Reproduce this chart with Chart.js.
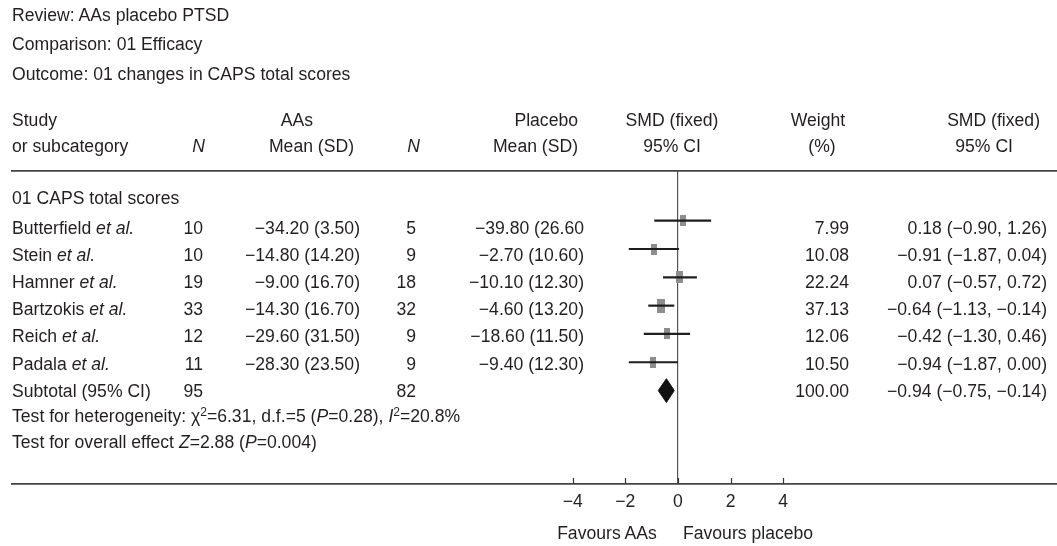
<!DOCTYPE html>
<html>
<head>
<meta charset="utf-8">
<script src="https://cdn.jsdelivr.net/npm/chart.js@4/dist/chart.umd.min.js"></script>
<style>
  html, body { margin: 0; padding: 0; background: #fff; }
  #wrap { position: relative; width: 1057px; height: 546px; overflow: hidden; }
  #plot { position: absolute; left: 0; top: 0; }
  .t { position: absolute; white-space: nowrap; font-family: "Liberation Sans", Arial, sans-serif;
       font-size: 17.6px; line-height: 20px; color: #231f20; }
  .t sup { font-size: 12px; line-height: 0; vertical-align: 6px; }
</style>
</head>
<body>
<div id="wrap">
  <canvas id="plot" width="1057" height="546"></canvas>
</div>
<script>
// data
const studies = ['Butterfield', 'Stein', 'Hamner', 'Bartzokis', 'Reich', 'Padala'];
const nAAs = [10, 10, 19, 33, 12, 11];
const meanAAs = [-34.20, -14.80, -9.00, -14.30, -29.60, -28.30];
const sdAAs = [3.50, 14.20, 16.70, 16.70, 31.50, 23.50];
const nPlacebo = [5, 9, 18, 32, 9, 9];
const meanPlacebo = [-39.80, -2.70, -10.10, -4.60, -18.60, -9.40];
const sdPlacebo = [26.60, 10.60, 12.30, 13.20, 11.50, 12.30];
const weights = [7.99, 10.08, 22.24, 37.13, 12.06, 10.50];
const smd = [0.18, -0.91, 0.07, -0.64, -0.42, -0.94];
const ciLow = [-0.90, -1.87, -0.57, -1.13, -1.30, -1.87];
const ciHigh = [1.26, 0.04, 0.72, -0.14, 0.46, 0.00];

const totalN = [95, 82];
const totalWeight = 100.00;
const pooledLabel = [-0.94, -0.75, -0.14];   // as printed
const pooledDiamond = [-0.75, -0.44, -0.14]; // as drawn: low, mid, high
const heterogeneity = { chi2: 6.31, df: 5, p: 0.28, i2: 20.8 };
const overall = { z: 2.88, p: 0.004 };

const tickValues = [-4, -2, 0, 2, 4];

const ink = '#231f20';
const fmt = (v, d = 2) => v.toFixed(d).replace('-', '\u2212');

// ---- text table ----
const wrap = document.getElementById('wrap');
function put(html, x, y, align) {
  const d = document.createElement('div');
  d.className = 't';
  d.innerHTML = html;
  d.style.top = (y - 10) + 'px';
  d.style.left = x + 'px';
  if (align === 'right') d.style.transform = 'translateX(-100%)';
  if (align === 'center') d.style.transform = 'translateX(-50%)';
  wrap.appendChild(d);
}

put('Review: AAs placebo PTSD', 12, 15);
put('Comparison: 01 Efficacy', 12, 44);
put('Outcome: 01 changes in CAPS total scores', 12, 74);

put('Study', 12, 120);
put('or subcategory', 12, 146);
put('<i>N</i>', 205, 146, 'right');
put('AAs', 297, 120, 'center');
put('Mean (SD)', 354, 146, 'right');
put('<i>N</i>', 420, 146, 'right');
put('Placebo', 578, 120, 'right');
put('Mean (SD)', 578, 146, 'right');
put('SMD (fixed)', 672, 120, 'center');
put('95% CI', 672, 146, 'center');
put('Weight', 818, 120, 'center');
put('(%)', 822, 146, 'center');
put('SMD (fixed)', 1040, 120, 'right');
put('95% CI', 1013, 146, 'right');

put('01 CAPS total scores', 12, 198);
const rowY = i => 228 + 27.1 * i;
studies.forEach((s, i) => {
  const y = rowY(i);
  put(s + ' <i>et al.</i>', 12, y);
  put(String(nAAs[i]), 203, y, 'right');
  put(fmt(meanAAs[i]) + ' (' + fmt(sdAAs[i]) + ')', 360, y, 'right');
  put(String(nPlacebo[i]), 416, y, 'right');
  // the figure prints Butterfield's placebo SD without a closing bracket
  put(fmt(meanPlacebo[i]) + ' (' + fmt(sdPlacebo[i]) + (i === 0 ? '' : ')'), 584, y, 'right');
  put(fmt(weights[i]), 849, y, 'right');
  put(fmt(smd[i]) + ' (' + fmt(ciLow[i]) + ', ' + fmt(ciHigh[i]) + ')', 1047, y, 'right');
});
const subY = rowY(6);
put('Subtotal (95% CI)', 12, subY);
put(String(totalN[0]), 203, subY, 'right');
put(String(totalN[1]), 416, subY, 'right');
put(fmt(totalWeight), 849, subY, 'right');
put(fmt(pooledLabel[0]) + ' (' + fmt(pooledLabel[1]) + ', ' + fmt(pooledLabel[2]) + ')', 1047, subY, 'right');
put('Test for heterogeneity: \u03c7<sup>2</sup>=' + heterogeneity.chi2.toFixed(2) + ', d.f.=' + heterogeneity.df +
    ' (<i>P</i>=' + heterogeneity.p.toFixed(2) + '), <i>I</i><sup>2</sup>=' + heterogeneity.i2.toFixed(1) + '%', 12, 416);
put('Test for overall effect <i>Z</i>=' + overall.z.toFixed(2) + ' (<i>P</i>=' + overall.p.toFixed(3) + ')', 12, 442);

put('Favours AAs', 607, 533, 'center');
put('Favours placebo', 683, 533);

// ---- forest plot ----
function box(w) {
  const c = document.createElement('canvas');
  c.width = Math.round(5 + 0.09 * w);
  c.height = Math.round(10 + 0.1 * w);
  const g = c.getContext('2d');
  g.fillStyle = '#8e8e8e';
  g.fillRect(0, 0, c.width, c.height);
  return c;
}

let datasets = [];
studies.forEach((s, i) => {
  datasets.push({
    label: s + ' CI',
    data: [{ x: ciLow[i], y: i + 1 }, { x: ciHigh[i], y: i + 1 }],
    borderColor: '#1e1e1e',
    borderWidth: 2.2,
    pointRadius: 0,
    fill: false,
  });
});
datasets.push({
  label: 'weights',
  data: smd.map((v, i) => ({ x: v, y: i + 1 })),
  showLine: false,
  pointStyle: weights.map(box),
  pointRadius: 5,
});
const dy = 0.42;
datasets.push({
  label: 'diamond top',
  data: [{ x: pooledDiamond[0], y: 7 }, { x: pooledDiamond[1], y: 7 - dy }, { x: pooledDiamond[2], y: 7 }],
  borderColor: '#111',
  borderWidth: 1,
  backgroundColor: '#111',
  pointRadius: 0,
  tension: 0,
  fill: '+1',
});
datasets.push({
  label: 'diamond bottom',
  data: [{ x: pooledDiamond[0], y: 7 }, { x: pooledDiamond[1], y: 7 + dy }, { x: pooledDiamond[2], y: 7 }],
  borderColor: '#111',
  borderWidth: 1,
  pointRadius: 0,
  tension: 0,
  fill: false,
});

// small tick marks standing up from the axis line
const innerTicks = {
  id: 'innerTicks',
  afterDraw(chart) {
    const sx = chart.scales.x;
    const g = chart.ctx;
    const b = chart.chartArea.bottom;
    g.save();
    g.strokeStyle = '#333';
    g.lineWidth = 1.2;
    tickValues.forEach(v => {
      const px = Math.round(sx.getPixelForValue(v)) + 0.5;
      g.beginPath();
      g.moveTo(px, b - 6);
      g.lineTo(px, b);
      g.stroke();
    });
    g.restore();
  }
};

const config = {
  type: 'line',
  data: { datasets: datasets },
  options: {
    responsive: false,
    animation: false,
    events: [],
    layout: { autoPadding: false, padding: { left: 12, top: 171, right: 0, bottom: 0 } },
    plugins: { legend: { display: false }, tooltip: { enabled: false } },
    scales: {
      x: {
        type: 'linear',
        position: 'bottom',
        min: -25.32,
        max: 14.41,
        afterBuildTicks: (s) => { s.ticks = tickValues.map(v => ({ value: v })); },
        afterFit: (s) => { s.height = 62; },
        grid: {
          drawTicks: false,
          lineWidth: 1.2,
          color: (c) => (c.tick && c.tick.value === 0 ? '#555' : 'rgba(0,0,0,0)'),
        },
        border: { display: true, color: '#444', width: 1.8 },
        ticks: {
          padding: 8,
          color: ink,
          font: { family: '"Liberation Sans", Arial, sans-serif', size: 17.6 },
          callback: (v) => String(v).replace('-', '\u2212'),
        },
      },
      xTop: {
        type: 'linear',
        position: 'top',
        min: -25.32,
        max: 14.41,
        afterFit: (s) => { s.height = 0; },
        grid: { display: false },
        ticks: { display: false },
        border: { display: true, color: '#444', width: 1.8 },
      },
      y: {
        type: 'linear',
        display: false,
        reverse: true,
        min: -0.756,
        max: 10.3,
      },
    },
  },
  plugins: [innerTicks],
};

const forest = new Chart(document.getElementById('plot'), config);
</script>
</body>
</html>
